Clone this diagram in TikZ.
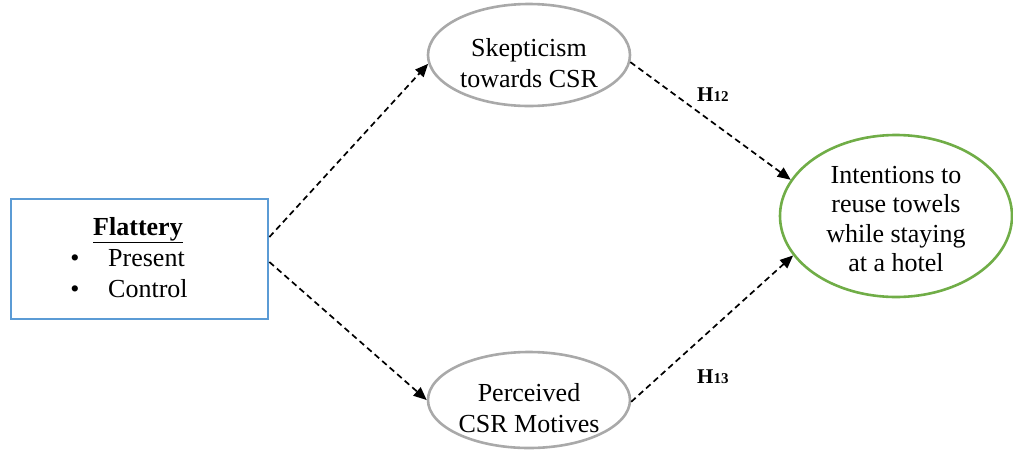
\documentclass[tikz,border=0pt]{standalone}
\usepackage{fontspec}
\setmainfont{Liberation Serif}
\usetikzlibrary{shapes.geometric,arrows.meta,calc}
\definecolor{boxblue}{HTML}{5B9BD5}
\definecolor{ovalgray}{HTML}{A9A9A9}
\definecolor{ovalgreen}{HTML}{70AD47}
\begin{document}
\begin{tikzpicture}[x=1pt,y=1pt,
  txt/.style={font=\fontsize{26}{31}\selectfont, align=center, inner sep=0pt},
  oval/.style={ellipse, draw=ovalgray, line width=2.6pt, inner sep=0pt},
  outcome/.style={ellipse, draw=ovalgreen, line width=2.6pt, inner sep=0pt},
  factor/.style={rectangle, draw=boxblue, line width=2.8pt, inner sep=0pt},
  path/.style={dashed, dash pattern=on 6pt off 4pt, line width=1.7pt,
    -{Triangle[length=13pt,width=11pt]}},
  hyp/.style={font=\fontsize{21}{21}\selectfont\bfseries, inner sep=0pt, anchor=base west}]
\useasboundingbox (0,0) rectangle (1013,-451);

% manipulated factor
\node[factor, minimum width=257pt, minimum height=120pt] (fl) at (139.5,-259) {};
\node[txt, anchor=base] (flt) at (138,-235) {\underline{\textbf{Flattery}}};
\node[txt, anchor=base] (b1) at (75,-266) {•};
\node[txt, anchor=base] (b2) at (75,-297) {•};
\node[txt, anchor=base west] (pr) at (108,-266) {Present};
\node[txt, anchor=base west] (co) at (108,-297) {Control};

% mediators
\node[oval, minimum width=202pt, minimum height=102pt] (sk) at (529,-55) {};
\node[txt] (skt) at ([yshift=-8pt]sk.center) {Skepticism\\towards CSR};
\node[oval, minimum width=202pt, minimum height=96pt] (pc) at (529,-400) {};
\node[txt] (pct) at ([yshift=-8pt]pc.center) {Perceived\\CSR Motives};

% outcome
\node[outcome, minimum width=232pt, minimum height=162pt] (in) at (896,-216) {};
\node[txt, font=\fontsize{26}{29.5}\selectfont] (int) at ([yshift=-3pt]in.center) {Intentions to\\reuse towels\\while staying\\at a hotel};

% paths
\coordinate (fa) at ($(fl.east)+(0,22)$);
\coordinate (fb) at ($(fl.east)+(0,-3)$);
\draw[path] (fa) -- (sk.185);
\draw[path] (fb) -- (pc.180);
\draw[path] (sk.-4) -- (in.161);
\draw[path] (pc.-1) -- (in.201);

% hypothesis labels
\node[hyp] (h12) at (697,-101) {H{\fontsize{15}{15}\selectfont 12}};
\node[hyp] (h13) at (697,-383) {H{\fontsize{15}{15}\selectfont 13}};
\end{tikzpicture}
\end{document}
